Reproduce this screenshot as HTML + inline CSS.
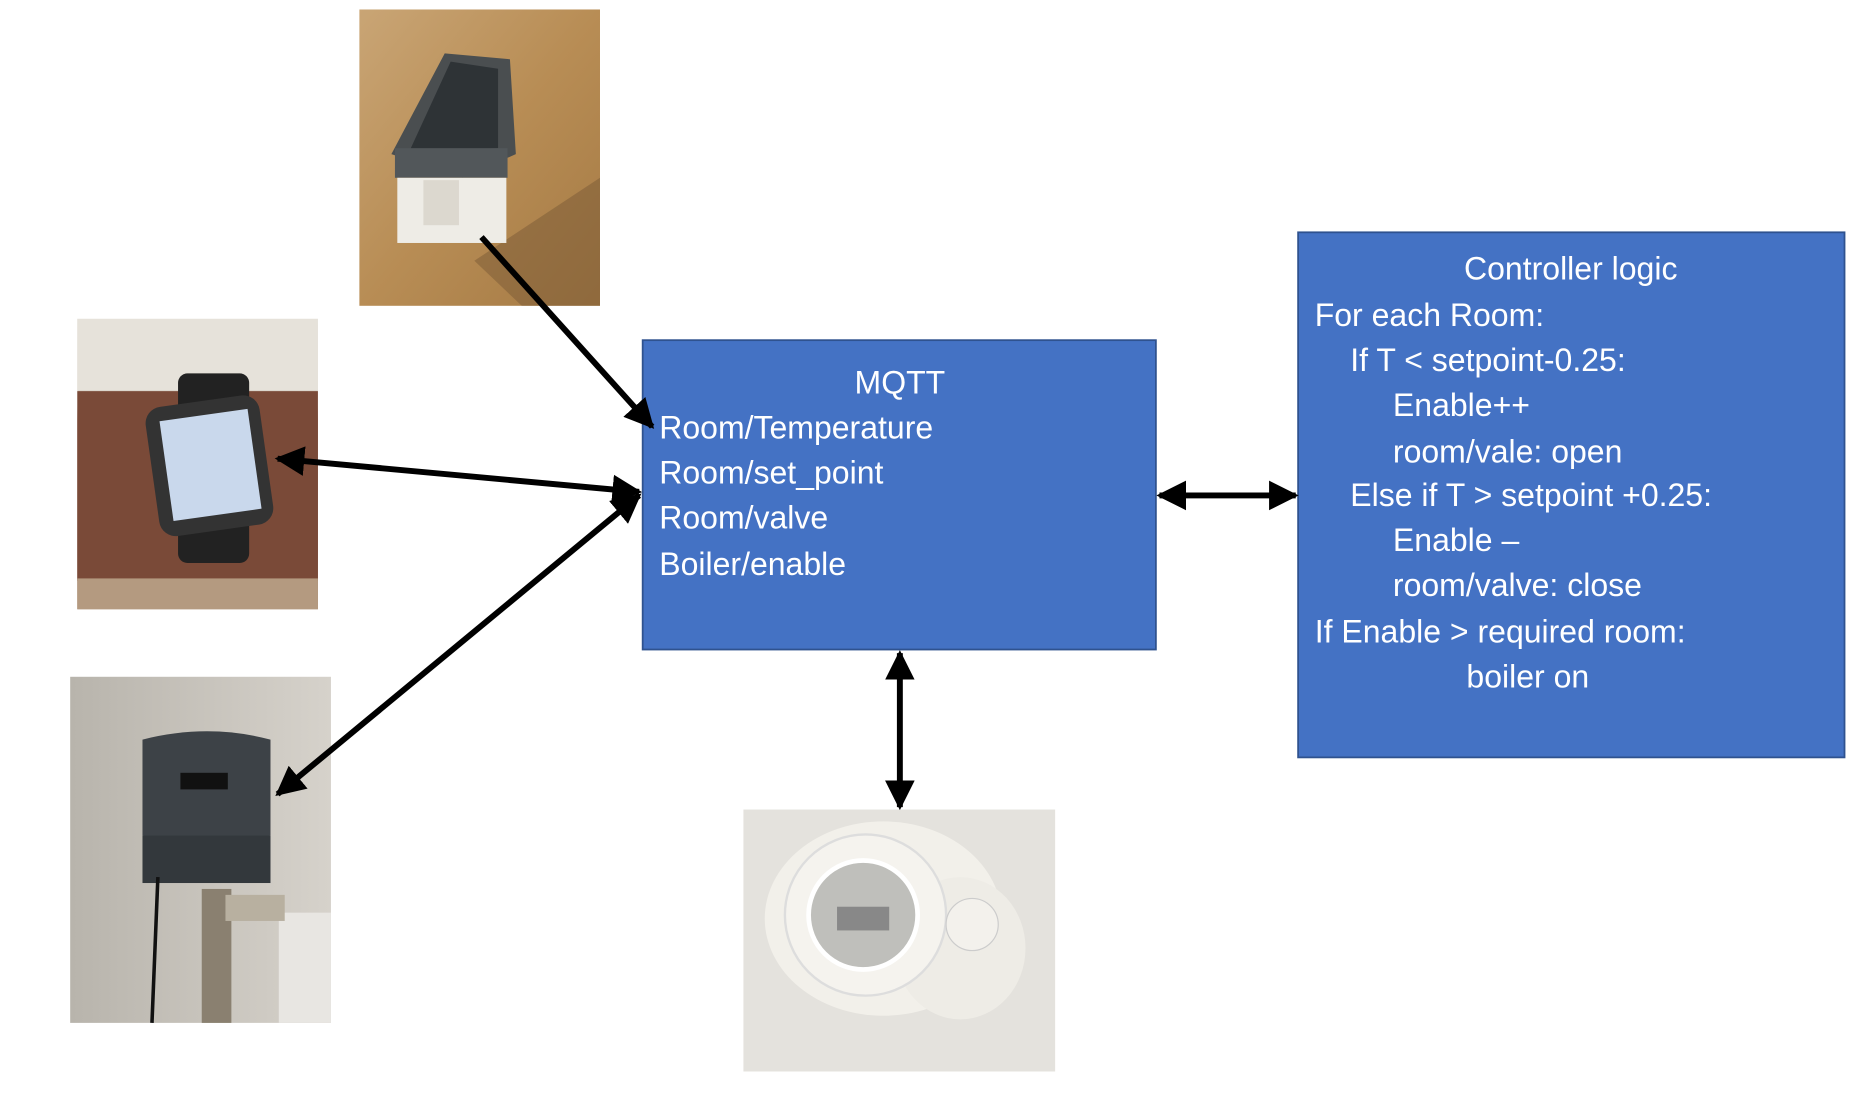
<!DOCTYPE html>
<html><head><meta charset="utf-8"><style>
html,body{margin:0;padding:0;background:#fff;width:1859px;height:1094px;overflow:hidden}
svg{display:block}
text{font-family:"Liberation Sans",sans-serif;fill:#fff;font-size:27px}
</style></head><body>
<svg width="1859" height="1094" viewBox="0 0 1568 923" xmlns="http://www.w3.org/2000/svg">
<defs>
<linearGradient id="wood" x1="0" y1="0" x2="1" y2="1"><stop offset="0" stop-color="#c9a575"/><stop offset="0.5" stop-color="#b88d55"/><stop offset="1" stop-color="#a57a44"/></linearGradient>
<linearGradient id="arm" x1="0" y1="0" x2="0" y2="1"><stop offset="0" stop-color="#ece8e2"/><stop offset="0.3" stop-color="#d8d2c8"/><stop offset="0.35" stop-color="#8a5a45"/><stop offset="0.8" stop-color="#6e4232"/><stop offset="1" stop-color="#a07a5a"/></linearGradient>
<linearGradient id="wall" x1="0" y1="0" x2="1" y2="0"><stop offset="0" stop-color="#b8b4ac"/><stop offset="1" stop-color="#d6d2cb"/></linearGradient>
<marker id="ah" viewBox="0 0 10 10" refX="9" refY="5" markerWidth="5" markerHeight="5" orient="auto-start-reverse"><path d="M0,0 L10,5 L0,10 z" fill="#000"/></marker>
</defs>

<!-- sensor photo -->
<rect x="303" y="8" width="203" height="250" fill="url(#wood)"/>
<polygon points="400,220 506,150 506,258 440,258" fill="#7a5a35" opacity="0.5"/>
<polygon points="330,130 375,45 430,50 435,130 390,150" fill="#4a4e50"/>
<polygon points="345,128 380,52 420,58 420,125" fill="#2e3336"/>
<rect x="333" y="125" width="95" height="25" fill="#52575a"/>
<rect x="335" y="150" width="92" height="55" fill="#eeece6"/>
<rect x="357" y="152" width="30" height="38" fill="#dcd8cf"/>

<!-- watch photo -->
<rect x="65" y="269" width="203" height="245" fill="url(#arm)"/>
<rect x="65" y="269" width="203" height="60" fill="#e6e2da"/>
<rect x="65" y="330" width="203" height="160" fill="#7a4a38"/>
<rect x="65" y="488" width="203" height="26" fill="#b49a80"/>
<rect x="150" y="315" width="60" height="160" rx="8" fill="#222"/>
<rect x="128" y="338" width="97" height="110" rx="14" fill="#333" transform="rotate(-8 176 393)"/>
<rect x="140" y="350" width="75" height="85" fill="#c9d8ec" transform="rotate(-8 176 393)"/>

<!-- valve photo -->
<rect x="59" y="571" width="220" height="292" fill="url(#wall)"/>
<rect x="235" y="770" width="44" height="93" fill="#e8e6e2"/>
<rect x="170" y="750" width="25" height="113" fill="#8a8070"/>
<rect x="190" y="755" width="50" height="22" fill="#b8b0a0"/>
<path d="M120,624 Q175,610 228,624 L228,705 Q175,720 120,705 z" fill="#3d4247"/>
<rect x="120" y="705" width="108" height="40" fill="#33383c"/>
<rect x="152" y="652" width="40" height="14" fill="#111"/>
<path d="M133,740 L128,863" stroke="#111" stroke-width="3" fill="none"/>

<!-- thermostat photo -->
<rect x="627" y="683" width="263" height="221" fill="#e4e2dd"/>
<ellipse cx="745" cy="775" rx="100" ry="82" fill="#f2f0ea"/>
<ellipse cx="810" cy="800" rx="55" ry="60" fill="#eeece6"/>
<circle cx="730" cy="772" r="68" fill="#f5f3ee" stroke="#ddd" stroke-width="2"/>
<circle cx="728" cy="772" r="46" fill="#bfbfbb" stroke="#fff" stroke-width="4"/>
<rect x="706" y="765" width="44" height="20" fill="#888"/>
<circle cx="820" cy="780" r="22" fill="#f3f1ec" stroke="#ccc"/>

<!-- MQTT box -->
<rect x="542" y="287" width="433" height="261" fill="#4472C4" stroke="#2F528F" stroke-width="1.5"/>
<text x="759" y="332" text-anchor="middle">MQTT</text>
<text x="556" y="370">Room/Temperature</text>
<text x="556" y="408">Room/set_point</text>
<text x="556" y="446">Room/valve</text>
<text x="556" y="485">Boiler/enable</text>

<!-- Controller box -->
<rect x="1095" y="196" width="461" height="443" fill="#4472C4" stroke="#2F528F" stroke-width="1.5"/>
<text x="1325" y="236" text-anchor="middle">Controller logic</text>
<text x="1109" y="275">For each Room:</text>
<text x="1139" y="313">If T &lt; setpoint-0.25:</text>
<text x="1175" y="351">Enable++</text>
<text x="1175" y="390">room/vale: open</text>
<text x="1139" y="427">Else if T &gt; setpoint +0.25:</text>
<text x="1175" y="465">Enable –</text>
<text x="1175" y="503">room/valve: close</text>
<text x="1109" y="542">If Enable &gt; required room:</text>
<text x="1237" y="580">boiler on</text>

<!-- arrows -->
<g stroke="#000" stroke-width="5" fill="none">
<line x1="406" y1="200" x2="550" y2="360" marker-end="url(#ah)"/>
<line x1="234" y1="387" x2="539" y2="415" marker-start="url(#ah)" marker-end="url(#ah)"/>
<line x1="234" y1="670" x2="539" y2="418" marker-start="url(#ah)" marker-end="url(#ah)"/>
<line x1="978" y1="418" x2="1093" y2="418" marker-start="url(#ah)" marker-end="url(#ah)"/>
<line x1="759" y1="551" x2="759" y2="681" marker-start="url(#ah)" marker-end="url(#ah)"/>
</g>
</svg>
</body></html>
